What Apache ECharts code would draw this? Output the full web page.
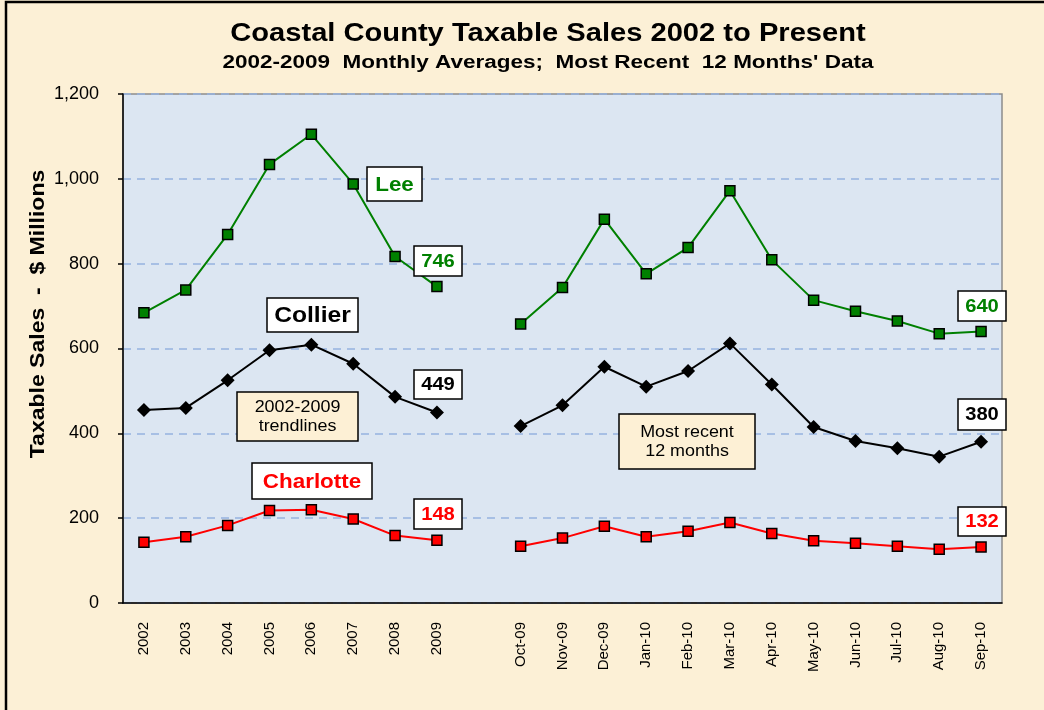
<!DOCTYPE html>
<html>
<head>
<meta charset="utf-8">
<title>Coastal County Taxable Sales</title>
<script src="https://cdn.jsdelivr.net/npm/echarts@6/dist/echarts.min.js"></script>
<style>
  html, body { margin: 0; padding: 0; background: #fcf1d8; }
  #chart { width: 1044px; height: 710px; }
</style>
</head>
<body>
<div id="chart"></div>
<script>
// categories: yearly averages, a blank gap, then last 12 months
var years = ['2002', '2003', '2004', '2005', '2006', '2007', '2008', '2009'];
var months = ['Oct-09', 'Nov-09', 'Dec-09', 'Jan-10', 'Feb-10', 'Mar-10',
  'Apr-10', 'May-10', 'Jun-10', 'Jul-10', 'Aug-10', 'Sep-10'];

// $ millions
var leeYears = [684, 738, 869, 1034, 1105, 988, 817, 746];
var leeMonths = [658, 744, 905, 776, 838, 972, 809, 714, 688, 665, 635, 640];
var collierYears = [455, 460, 525, 596, 609, 564, 486, 449];
var collierMonths = [417, 466, 557, 510, 547, 612, 515, 415, 382, 365, 345, 380];
var charlotteYears = [143, 156, 183, 218, 220, 198, 159, 148];
var charlotteMonths = [134, 153, 181, 156, 169, 190, 164, 147, 141, 134, 127, 132];

var yTicks = [0, 200, 400, 600, 800, 1000, 1200];

var categories = years.concat(['']).concat(months);
function joinData(a, b) {
  return a.concat(['-']).concat(b);
}

var FONT = '"Liberation Sans", Arial, sans-serif';

// text stretched a bit wider, like the original picture
function label(x, y, text, size, bold, sx, rot) {
  return {
    type: 'text',
    x: x,
    y: y,
    z: 100,
    scaleX: sx || 1,
    rotation: rot || 0,
    style: {
      text: text,
      fill: '#000',
      font: (bold ? 'bold ' : '') + size + 'px ' + FONT,
      align: 'center',
      verticalAlign: 'middle'
    }
  };
}

// white label boxes
function box(x, y, w, h, text, color, size, bold, fill) {
  return {
    type: 'group',
    x: x,
    y: y,
    z: 100,
    children: [
      {
        type: 'rect',
        z: 100,
        shape: { x: 0, y: 0, width: w, height: h },
        style: { fill: fill || '#ffffff', stroke: '#000000', lineWidth: 1.5 }
      },
      {
        type: 'text',
        z: 101,
        x: w / 2,
        y: h / 2 + 1,
        scaleX: 1.12,
        style: {
          text: text,
          fill: color,
          font: (bold ? 'bold ' : '') + size + 'px ' + FONT,
          align: 'center',
          verticalAlign: 'middle',
          lineHeight: size + 3
        }
      }
    ]
  };
}

var chart = echarts.init(document.getElementById('chart'));

chart.setOption({
  backgroundColor: '#fcf0d6',
  animation: false,
  textStyle: { fontFamily: FONT },
  grid: {
    left: 123,
    right: 42,
    top: 94,
    bottom: 107,
    show: true,
    backgroundColor: '#dce6f2',
    borderColor: '#8c8c8c',
    borderWidth: 1.5
  },
  xAxis: {
    type: 'category',
    data: categories,
    boundaryGap: true,
    axisLine: { lineStyle: { color: '#000', width: 1.5 } },
    axisTick: { interval: 0, length: 5, lineStyle: { color: '#000', width: 1.5 } },
    axisLabel: {
      interval: 0,
      rotate: 90,
      margin: 19,
      fontSize: 15,
      color: '#000'
    }
  },
  yAxis: {
    type: 'value',
    min: yTicks[0],
    max: yTicks[yTicks.length - 1],
    interval: 200,
    axisLine: { show: true, lineStyle: { color: '#000', width: 1.5 } },
    axisTick: { show: true, length: 5, lineStyle: { color: '#000', width: 1.5 } },
    axisLabel: {
      fontSize: 18,
      color: '#000',
      margin: 24,
      formatter: function (v) { return v.toLocaleString('en-US'); }
    },
    splitLine: {
      lineStyle: { color: '#95b3e0', width: 1.5, type: [8, 6] }
    }
  },
  series: [
    {
      name: 'Lee',
      type: 'line',
      data: joinData(leeYears, leeMonths),
      connectNulls: false,
      symbol: 'rect',
      symbolSize: 10,
      lineStyle: { color: '#008000', width: 2 },
      itemStyle: { color: '#008000', borderColor: '#000', borderWidth: 1.5 }
    },
    {
      name: 'Collier',
      type: 'line',
      data: joinData(collierYears, collierMonths),
      connectNulls: false,
      symbol: 'diamond',
      symbolSize: 14,
      lineStyle: { color: '#000', width: 2 },
      itemStyle: { color: '#000' }
    },
    {
      name: 'Charlotte',
      type: 'line',
      data: joinData(charlotteYears, charlotteMonths),
      connectNulls: false,
      symbol: 'rect',
      symbolSize: 10,
      lineStyle: { color: '#ff0000', width: 2 },
      itemStyle: { color: '#ff0000', borderColor: '#000', borderWidth: 1.5 }
    }
  ],
  graphic: [
    {
      type: 'rect',
      z: 200,
      shape: { x: 6, y: 2, width: 1100, height: 800 },
      style: { fill: 'none', stroke: '#000', lineWidth: 2.5 }
    },
    label(548, 34, 'Coastal County Taxable Sales 2002 to Present', 26, true, 1.12),
    label(548, 63, "2002-2009  Monthly Averages;  Most Recent  12 Months' Data", 18, true, 1.25),
    label(38, 314, 'Taxable Sales  -  $ Millions', 20, true, 1.15, Math.PI / 2),
    box(367, 167, 55, 34, 'Lee', '#008000', 20, true),
    box(414, 246, 48, 30, String(leeYears[leeYears.length - 1]), '#008000', 18, true),
    box(267, 298, 91, 34, 'Collier', '#000000', 22, true),
    box(414, 370, 48, 29, String(collierYears[collierYears.length - 1]), '#000000', 18, true),
    box(237, 392, 121, 49, '2002-2009\ntrendlines', '#000000', 16, false, '#fdf0d5'),
    box(252, 463, 120, 36, 'Charlotte', '#ff0000', 20, true),
    box(414, 499, 48, 30, String(charlotteYears[charlotteYears.length - 1]), '#ff0000', 18, true),
    box(619, 414, 136, 55, 'Most recent\n12 months', '#000000', 16, false, '#fdf0d5'),
    box(958, 291, 48, 30, String(leeMonths[leeMonths.length - 1]), '#008000', 18, true),
    box(958, 399, 48, 31, String(collierMonths[collierMonths.length - 1]), '#000000', 18, true),
    box(958, 507, 48, 29, String(charlotteMonths[charlotteMonths.length - 1]), '#ff0000', 18, true)
  ]
});
</script>
</body>
</html>
